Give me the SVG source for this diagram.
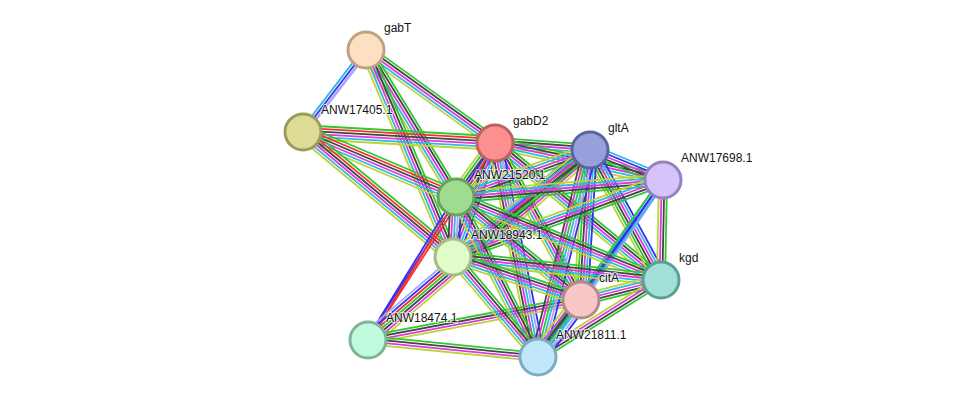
<svg xmlns="http://www.w3.org/2000/svg" xmlns:xlink="http://www.w3.org/1999/xlink" width="975" height="403" viewBox="0 0 975 403">
<style>
.bl line{stroke-width:1.8;fill:none}
.g{stroke:#33c633}.r{stroke:#f23030}.b{stroke:#3030f6}.k{stroke:#454545}.m{stroke:#dc3adc}.c{stroke:#33b6e2}.y{stroke:#bad436}.h{stroke:#a8a8fa}
.node circle{stroke-width:3}
.node text{font-family:"Liberation Sans",Arial,sans-serif;font-size:12px;fill:#141414;stroke:#fff;stroke-width:2.2;stroke-opacity:0.7;paint-order:stroke;stroke-linejoin:round}
</style>
<defs>
<g id="b5a" class="bl"><line x1="0" x2="1" y1="-5.4" y2="-5.4" class="g"/><line x1="0" x2="1" y1="-2.7" y2="-2.7" class="k"/><line x1="0" x2="1" y1="0" y2="0" class="m"/><line x1="0" x2="1" y1="2.7" y2="2.7" class="c"/><line x1="0" x2="1" y1="5.4" y2="5.4" class="y"/></g>
<g id="b3a" class="bl"><line x1="0" x2="1" y1="-2.7" y2="-2.7" class="h" style="stroke-width:2.6"/><line x1="0" x2="1" y1="0" y2="0" class="b"/><line x1="0" x2="1" y1="2.7" y2="2.7" class="c"/></g>
<g id="b6a" class="bl"><line x1="0" x2="1" y1="-6.75" y2="-6.75" class="g"/><line x1="0" x2="1" y1="-4.05" y2="-4.05" class="r"/><line x1="0" x2="1" y1="-1.35" y2="-1.35" class="k"/><line x1="0" x2="1" y1="1.35" y2="1.35" class="m"/><line x1="0" x2="1" y1="4.05" y2="4.05" class="c"/><line x1="0" x2="1" y1="6.75" y2="6.75" class="y"/></g>
<g id="b6b" class="bl"><line x1="0" x2="1" y1="-6.75" y2="-6.75" class="b"/><line x1="0" x2="1" y1="-4.05" y2="-4.05" class="c"/><line x1="0" x2="1" y1="-1.35" y2="-1.35" class="m"/><line x1="0" x2="1" y1="1.35" y2="1.35" class="k"/><line x1="0" x2="1" y1="4.05" y2="4.05" class="g"/><line x1="0" x2="1" y1="6.75" y2="6.75" class="y"/></g>
<g id="b5b" class="bl"><line x1="0" x2="1" y1="-5.4" y2="-5.4" class="b"/><line x1="0" x2="1" y1="-2.7" y2="-2.7" class="c"/><line x1="0" x2="1" y1="0" y2="0" class="m"/><line x1="0" x2="1" y1="2.7" y2="2.7" class="k"/><line x1="0" x2="1" y1="5.4" y2="5.4" class="y"/></g>
<g id="b6c" class="bl"><line x1="0" x2="1" y1="-6.75" y2="-6.75" class="b"/><line x1="0" x2="1" y1="-4.05" y2="-4.05" class="h"/><line x1="0" x2="1" y1="-1.35" y2="-1.35" class="c"/><line x1="0" x2="1" y1="1.35" y2="1.35" class="m"/><line x1="0" x2="1" y1="4.05" y2="4.05" class="k"/><line x1="0" x2="1" y1="6.75" y2="6.75" class="y"/></g>
<g id="b2" class="bl"><line x1="0" x2="1" y1="-1.35" y2="-1.35" class="r"/><line x1="0" x2="1" y1="1.35" y2="1.35" class="b"/></g>
<g id="b7a" class="bl"><line x1="0" x2="1" y1="-8.1" y2="-8.1" class="h"/><line x1="0" x2="1" y1="-5.4" y2="-5.4" class="b"/><line x1="0" x2="1" y1="-2.7" y2="-2.7" class="r"/><line x1="0" x2="1" y1="0" y2="0" class="g"/><line x1="0" x2="1" y1="2.7" y2="2.7" class="k"/><line x1="0" x2="1" y1="5.4" y2="5.4" class="m"/><line x1="0" x2="1" y1="8.1" y2="8.1" class="y"/></g>
<g id="b4" class="bl"><line x1="0" x2="1" y1="-4.05" y2="-4.05" class="g"/><line x1="0" x2="1" y1="-1.35" y2="-1.35" class="k"/><line x1="0" x2="1" y1="1.35" y2="1.35" class="m"/><line x1="0" x2="1" y1="4.05" y2="4.05" class="y"/></g>
<g id="b5c" class="bl"><line x1="0" x2="1" y1="-5.4" y2="-5.4" class="c"/><line x1="0" x2="1" y1="-2.7" y2="-2.7" class="b"/><line x1="0" x2="1" y1="0" y2="0" class="m"/><line x1="0" x2="1" y1="2.7" y2="2.7" class="k"/><line x1="0" x2="1" y1="5.4" y2="5.4" class="g"/></g>
<g id="b6d" class="bl"><line x1="0" x2="1" y1="-6.75" y2="-6.75" class="b"/><line x1="0" x2="1" y1="-4.05" y2="-4.05" class="h"/><line x1="0" x2="1" y1="-1.35" y2="-1.35" class="c"/><line x1="0" x2="1" y1="1.35" y2="1.35" class="g"/><line x1="0" x2="1" y1="4.05" y2="4.05" class="m"/><line x1="0" x2="1" y1="6.75" y2="6.75" class="k"/></g>
<g id="b3b" class="bl"><line x1="0" x2="1" y1="-2.7" y2="-2.7" class="c"/><line x1="0" x2="1" y1="0" y2="0" class="b"/><line x1="0" x2="1" y1="2.7" y2="2.7" class="g"/></g>
<g id="b5d" class="bl"><line x1="0" x2="1" y1="-5.4" y2="-5.4" class="b"/><line x1="0" x2="1" y1="-2.7" y2="-2.7" class="h"/><line x1="0" x2="1" y1="0" y2="0" class="c"/><line x1="0" x2="1" y1="2.7" y2="2.7" class="m"/><line x1="0" x2="1" y1="5.4" y2="5.4" class="k"/></g>
<g id="b7b" class="bl"><line x1="0" x2="1" y1="-8.1" y2="-8.1" class="b"/><line x1="0" x2="1" y1="-5.4" y2="-5.4" class="h"/><line x1="0" x2="1" y1="-2.7" y2="-2.7" class="c"/><line x1="0" x2="1" y1="0" y2="0" class="g"/><line x1="0" x2="1" y1="2.7" y2="2.7" class="k"/><line x1="0" x2="1" y1="5.4" y2="5.4" class="m"/><line x1="0" x2="1" y1="8.1" y2="8.1" class="y"/></g>
</defs>
<rect width="975" height="403" fill="#fff"/>
<g id="edges">
<use href="#b3a" transform="matrix(-63 82 -0.793 -0.609 366 50)"/>
<use href="#b5a" transform="matrix(129 93 -0.585 0.811 366 50)"/>
<use href="#b5a" transform="matrix(90 147 -0.853 0.522 366 50)"/>
<use href="#b5a" transform="matrix(87 207 -0.922 0.388 366 50)"/>
<use href="#b6a" transform="matrix(192 11 -0.057 0.998 303 132)"/>
<use href="#b6a" transform="matrix(153 65 -0.391 0.921 303 132)"/>
<use href="#b6a" transform="matrix(150 125 -0.640 0.768 303 132)"/>
<use href="#b5a" transform="matrix(95 7 -0.073 0.997 495 143)"/>
<use href="#b5a" transform="matrix(168 37 -0.215 0.977 495 143)"/>
<use href="#b6b" transform="matrix(-39 54 -0.811 -0.586 495 143)"/>
<use href="#b5b" transform="matrix(-42 114 -0.938 -0.346 495 143)"/>
<use href="#b5a" transform="matrix(166 137 -0.637 0.771 495 143)"/>
<use href="#b5a" transform="matrix(86 157 -0.877 0.480 495 143)"/>
<use href="#b6c" transform="matrix(43 214 -0.980 0.197 495 143)"/>
<use href="#b2" transform="matrix(-127 197 -0.840 -0.542 495 143)"/>
<use href="#b2" transform="matrix(-88 143 -0.852 -0.524 456 197)"/>
<use href="#b7a" transform="matrix(222 -190 0.650 0.760 368 340)"/>
<use href="#b4" transform="matrix(213 -40 0.185 0.983 368 340)"/>
<use href="#b4" transform="matrix(170 17 -0.0995 0.995 368 340)"/>
<use href="#b5c" transform="matrix(73 30 -0.380 0.925 590 150)"/>
<use href="#b5a" transform="matrix(-134 47 -0.331 -0.944 590 150)"/>
<use href="#b5a" transform="matrix(-137 107 -0.616 -0.788 590 150)"/>
<use href="#b6b" transform="matrix(71 130 -0.878 0.479 590 150)"/>
<use href="#b6b" transform="matrix(-9 150 -0.998 -0.060 590 150)"/>
<use href="#b6d" transform="matrix(-52 207 -0.970 -0.244 590 150)"/>
<use href="#b5a" transform="matrix(-207 17 -0.082 -0.997 663 180)"/>
<use href="#b5a" transform="matrix(-210 77 -0.344 -0.939 663 180)"/>
<use href="#b4" transform="matrix(-2 100 -1 -0.02 663 180)"/>
<use href="#b3a" transform="matrix(-82 120 -0.826 -0.564 663 180)"/>
<use href="#b3b" transform="matrix(-125 177 -0.817 -0.577 663 180)"/>
<use href="#b5d" transform="matrix(-3 60 -0.998 -0.050 456 197)"/>
<use href="#b5a" transform="matrix(205 83 -0.375 0.927 456 197)"/>
<use href="#b5a" transform="matrix(125 103 -0.636 0.772 456 197)"/>
<use href="#b5a" transform="matrix(82 160 -0.890 0.456 456 197)"/>
<use href="#b5a" transform="matrix(208 23 -0.110 0.994 453 257)"/>
<use href="#b5a" transform="matrix(128 43 -0.319 0.948 453 257)"/>
<use href="#b5a" transform="matrix(85 100 -0.762 0.648 453 257)"/>
<use href="#b5a" transform="matrix(-80 20 -0.243 -0.970 661 280)"/>
<use href="#b4" transform="matrix(-123 77 -0.531 -0.848 661 280)"/>
<use href="#b7b" transform="matrix(-43 57 -0.798 -0.602 581 300)"/>
</g>
<g id="gabT" class="node"><circle cx="366" cy="50" r="18" fill="#fddfc2" stroke="#c0a282"/><text x="384" y="32">gabT</text></g>
<g id="ANW17405.1" class="node"><circle cx="303" cy="132" r="18" fill="#dcdc96" stroke="#9c9c5a"/><text x="321" y="114">ANW17405.1</text></g>
<g id="gabD2" class="node"><circle cx="495" cy="143" r="18" fill="#fc9090" stroke="#c06060"/><text x="513" y="125">gabD2</text></g>
<g id="gltA" class="node"><circle cx="590" cy="150" r="18" fill="#98a0dc" stroke="#5a64a0"/><text x="608" y="132">gltA</text></g>
<g id="ANW17698.1" class="node"><circle cx="663" cy="180" r="18" fill="#d4c4fa" stroke="#9682c0"/><text x="681" y="162">ANW17698.1</text></g>
<g id="ANW21520.1" class="node"><circle cx="456" cy="197" r="18" fill="#a0dc90" stroke="#68a260"/><text x="474" y="179">ANW21520.1</text></g>
<g id="ANW18943.1" class="node"><circle cx="453" cy="257" r="18" fill="#e0fcc8" stroke="#a4bc88"/><text x="471" y="239">ANW18943.1</text></g>
<g id="kgd" class="node"><circle cx="661" cy="280" r="18" fill="#a0e0d8" stroke="#5c9e98"/><text x="679" y="262">kgd</text></g>
<g id="citA" class="node"><circle cx="581" cy="300" r="18" fill="#f8c8c8" stroke="#b48a8a"/><text x="599" y="282">citA</text></g>
<g id="ANW18474.1" class="node"><circle cx="368" cy="340" r="18" fill="#c0fadc" stroke="#80b49a"/><text x="386" y="322">ANW18474.1</text></g>
<g id="ANW21811.1" class="node"><circle cx="538" cy="357" r="18" fill="#c0e8fa" stroke="#80aac4"/><text x="556" y="339">ANW21811.1</text></g>
</svg>
